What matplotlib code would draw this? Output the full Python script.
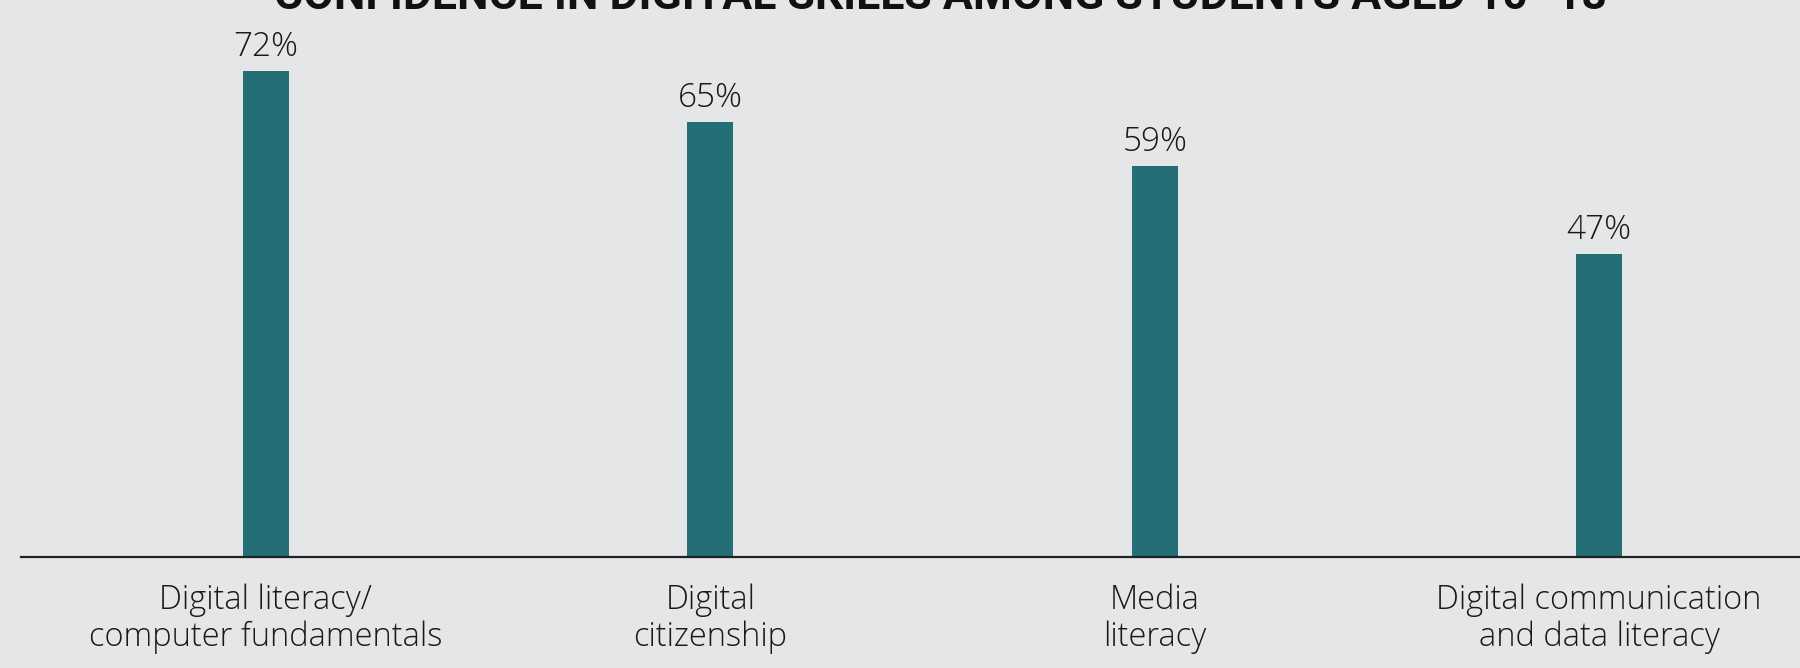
import matplotlib
matplotlib.use("Agg")
import matplotlib.pyplot as plt

# -----------------------------
# Data
# -----------------------------
skills = [
    "Digital literacy/\ncomputer fundamentals",
    "Digital\ncitizenship",
    "Media\nliteracy",
    "Digital communication\nand data literacy",
]
confidence = [72, 65, 59, 47]

title = "CONFIDENCE IN DIGITAL SKILLS AMONG STUDENTS AGED 10\u201318"

bg = "#e5e6e8"
bar_color = "#246e76"
text_color = "#1a1a1a"

# -----------------------------
# Plot
# -----------------------------
fig = plt.figure(figsize=(18, 6.68), dpi=100, facecolor=bg)
ax = fig.add_axes([21 / 1800, (668 - 557) / 668, 1 - 21 / 1800, 557 / 668])
ax.set_facecolor(bg)

x = range(len(skills))
bars = ax.bar(x, confidence, width=0.104, color=bar_color, zorder=2)

for b, v in zip(bars, confidence):
    ax.annotate(f"{v}%", (b.get_x() + b.get_width() / 2, v),
                xytext=(0, 11), textcoords="offset points",
                ha="center", va="baseline", fontsize=24,
                family="Open Sans", weight="light", color=text_color)

ax.set_xlim(-0.551, 3.452)
ax.set_ylim(5.6, 81.7)

ax.set_xticks(list(x))
ax.set_xticklabels(skills, fontsize=23.5, family="Open Sans", weight="light",
                   color=text_color, linespacing=1.15)
ax.tick_params(axis="x", length=0, pad=19)
ax.set_yticks([])

for side in ["top", "right", "left"]:
    ax.spines[side].set_visible(False)
ax.spines["bottom"].set_linewidth(1.6)
ax.spines["bottom"].set_color("#222222")
ax.spines["bottom"].set_zorder(3)

fig.text(940 / 1800, 1 - 9 / 668, title, ha="center", va="baseline",
         fontsize=32, family="Roboto", weight="bold", color="#111111")

fig.savefig("out.png", dpi=100, facecolor=bg)
